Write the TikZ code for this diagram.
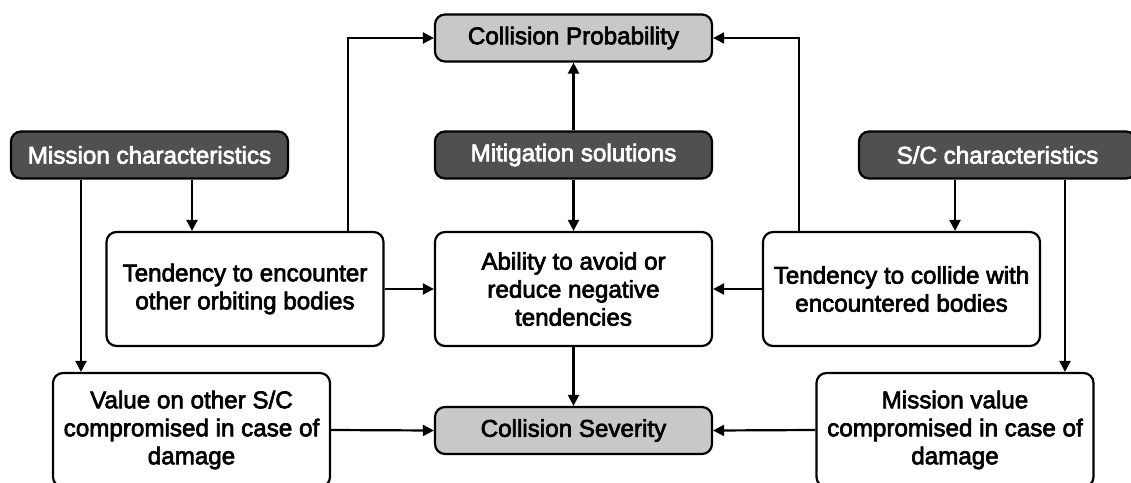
\documentclass[tikz,border=0pt]{standalone}
\usepackage{fontspec}
\setmainfont{Liberation Sans}[BoldFont=Liberation Sans, BoldFeatures={FakeBold=2.8}]
\usetikzlibrary{arrows.meta}
\definecolor{darkbox}{HTML}{505050}
\definecolor{lightbox}{HTML}{C8C8C8}
\tikzset{
  box/.style={draw=black, line width=2.2pt, rounded corners=10pt, align=center,
    minimum width=277pt, font=\fontsize{24.2}{28}\selectfont\bfseries, inner sep=0pt},
  smallbox/.style={box, minimum height=47pt},
  bigbox/.style={box, minimum height=114pt, fill=white},
  inbox/.style={smallbox, fill=darkbox, text=white},
  outbox/.style={smallbox, fill=lightbox, text=black},
  arr/.style={line width=2.2pt, -{Triangle[length=11pt,width=11pt]}},
}
\begin{document}
\begin{tikzpicture}[x=1pt,y=-1pt]
\useasboundingbox (0,0) rectangle (1131,482);
\fill[white] (0,0) rectangle (1131,482);

% top and bottom outcomes
\node[outbox] (cp) at (573.5,38) {Collision Probability};
\node[outbox] (cs) at (573.5,430.5) {Collision Severity};

% driving characteristics
\node[inbox] (mc) at (149.5,155) {Mission characteristics};
\node[inbox] (ms) at (573.5,155) {Mitigation solutions};
\node[inbox] (sc) at (997.5,155) {S/C characteristics};

% intermediate tendencies
\node[bigbox] (te) at (245,289) {Tendency to encounter\\other orbiting bodies};
\node[bigbox] (ab) at (573.5,289) {Ability to avoid or\\reduce negative\\tendencies};
\node[bigbox] (tc) at (901.5,289) {Tendency to collide with\\encountered bodies};

% compromised values
\node[bigbox] (vo) at (191.5,430) {Value on other S/C\\compromised in case of\\damage};
\node[bigbox] (mv) at (955,430) {Mission value\\compromised in case of\\damage};

% connectors
\draw[arr] ([xshift=42.5pt]mc.south) -- ([xshift=42.5pt]mc.south |- te.north);
\draw[arr] ([xshift=-68.5pt]mc.south) -- ([xshift=-68.5pt]mc.south |- vo.north);
\draw[arr] ([xshift=103pt]te.north) |- (cp.west);
\draw[arr] ([xshift=-102.5pt]tc.north) |- (cp.east);
\draw[arr] (ms.north) -- (cp.south);
\draw[arr] (ms.south) -- (ab.north);
\draw[arr] (ab.south) -- (cs.north);
\draw[arr] (te.east) -- (ab.west);
\draw[arr] (tc.west) -- (ab.east);
\draw[arr] ([xshift=-42.5pt]sc.south) -- ([xshift=-42.5pt]sc.south |- tc.north);
\draw[arr] ([xshift=67.5pt]sc.south) -- ([xshift=67.5pt]sc.south |- mv.north);
\draw[arr] (vo.east) -- (cs.west);
\draw[arr] (mv.west) -- (cs.east);
\end{tikzpicture}
\end{document}
